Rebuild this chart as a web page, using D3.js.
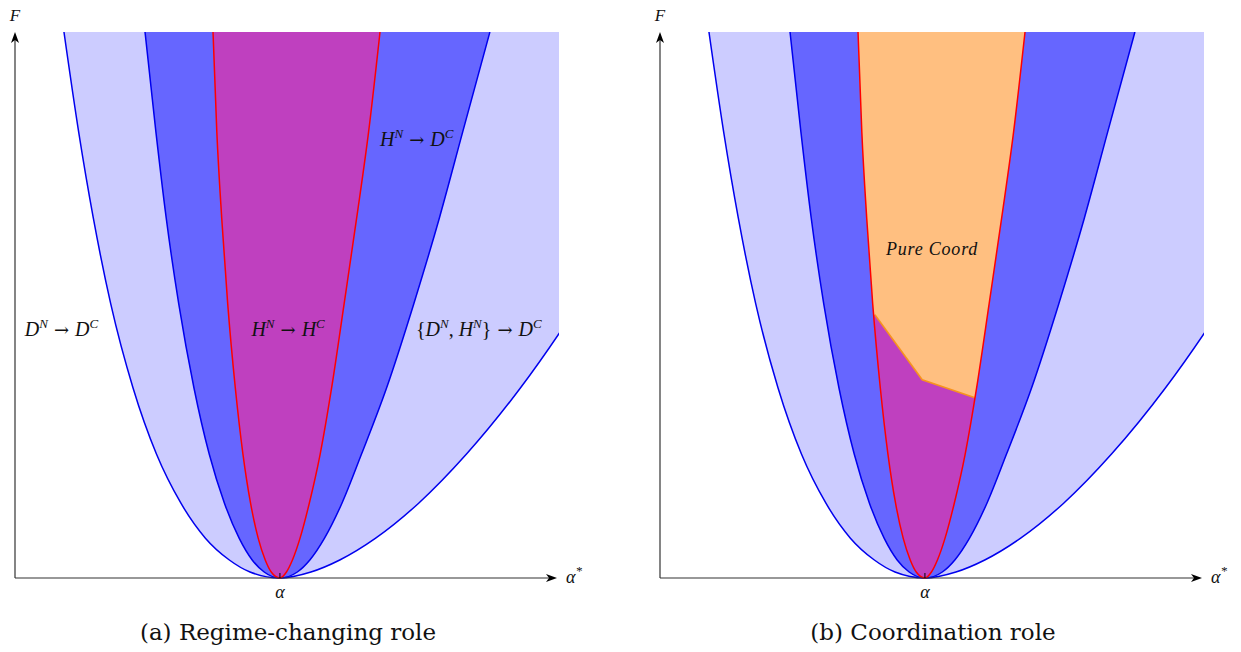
<!DOCTYPE html>
<html>
<head>
<meta charset="utf-8">
<script src="https://cdn.jsdelivr.net/npm/d3@7"></script>
<style>
body { margin: 0; background: #fff; }
svg { display: block; }
text { font-family: "Liberation Serif", "DejaVu Serif", serif; fill: #111; }
</style>
</head>
<body>
<svg id="chart" width="1241" height="652"></svg>
<script>
// values, alpha* and F both on a 0..10 scale
let alpha = 4.87;
let fLevels    = [0, 0.11, 0.33, 0.73, 1.37, 2.27, 3.48, 5.02, 6.59, 8.17, 10.0];
let outerLeft  = [4.87, 4.32, 3.94, 3.50, 3.05, 2.60, 2.17, 1.76, 1.44, 1.17, 0.90];
let blueLeft   = [4.87, 4.58, 4.36, 4.12, 3.85, 3.57, 3.29, 3.01, 2.78, 2.59, 2.39];
let redLeft    = [4.87, 4.71, 4.60, 4.47, 4.33, 4.19, 4.05, 3.91, 3.80, 3.71, 3.64];
let redRight   = [4.87, 4.99, 5.10, 5.24, 5.41, 5.61, 5.82, 6.05, 6.28, 6.50, 6.71];
let blueRight  = [4.87, 5.19, 5.42, 5.69, 6.01, 6.37, 6.83, 7.33, 7.80, 8.23, 8.73];
let outerRight = [4.87, 5.44, 5.97, 6.63, 7.42, 8.30, 9.29, 10.36, 11.32, 12.19, 13.12];
let coordCutX  = [3.95, 4.82, 5.79];
let coordCutF  = [4.82, 3.63, 3.30];

let captions = ["(a) Regime-changing role", "(b) Coordination role"];

let svg = d3.select("#chart");
let defs = svg.append("defs");

function pts(xs) {
    return xs.map((v, i) => [v, fLevels[i]]);
}

function uShape(leftXs, rightXs) {
    // left branch top->origin, then right branch origin->top; x keeps increasing
    return pts(leftXs).reverse().concat(pts(rightXs).slice(1));
}

function mathText(g, x, y, tokens, anchor) {
    let t = g.append("text")
        .attr("x", x).attr("y", y)
        .attr("text-anchor", anchor || "start")
        .style("font-size", "20px");
    let up = false, afterArrow = false;
    tokens.forEach(tok => {
        let s = t.append("tspan").text(tok.t);
        if (tok.i) s.style("font-style", "italic");
        if (afterArrow) { s.attr("dx", 6); afterArrow = false; }
        if (tok.arrow) {
            s.style("font-family", "DejaVu Serif").style("font-size", "18px").attr("dx", 6);
            afterArrow = true;
        }
        if (tok.sup) {
            s.attr("dy", -8).style("font-size", "13px").style("font-style", "italic");
            up = true;
        } else if (up) {
            s.attr("dy", 8);
            up = false;
        }
    });
    return t;
}

function drawPanel(left, idx, coordRole) {
    let x = d3.scaleLinear().domain([0, 10]).range([left, left + 544]);
    let y = d3.scaleLinear().domain([0, 10]).range([578, 32]);
    let g = svg.append("g");

    let clipId = "clip" + idx;
    defs.append("clipPath").attr("id", clipId)
        .append("rect")
        .attr("x", x(0)).attr("y", y(10))
        .attr("width", x(10) - x(0)).attr("height", y(0) - y(10) + 2);

    let line = d3.line()
        .x(d => x(d[0])).y(d => y(d[1]))
        .curve(d3.curveMonotoneX);

    let plot = g.append("g").attr("clip-path", "url(#" + clipId + ")");

    let outer = uShape(outerLeft, outerRight);
    let blue = uShape(blueLeft, blueRight);
    let red = uShape(redLeft, redRight);

    plot.append("path").attr("d", line(outer) + "Z").attr("fill", "#ccccff");
    plot.append("path").attr("d", line(blue) + "Z").attr("fill", "#6666ff");
    plot.append("path").attr("d", line(red) + "Z").attr("fill", "#bf40bf");

    if (coordRole) {
        let cutId = "cut" + idx;
        let poly = [[0, coordCutF[0]]];
        coordCutX.forEach((v, i) => poly.push([v, coordCutF[i]]));
        poly.push([10, coordCutF[coordCutF.length - 1]], [10, 10], [0, 10]);
        defs.append("clipPath").attr("id", cutId)
            .append("polygon")
            .attr("points", poly.map(p => x(p[0]) + "," + y(p[1])).join(" "));
        plot.append("g").attr("clip-path", "url(#" + cutId + ")")
            .append("path").attr("d", line(red) + "Z").attr("fill", "#ffbf80");
        plot.append("path")
            .attr("d", d3.line().x(d => x(d[0])).y(d => y(d[1]))(coordCutX.map((v, i) => [v, coordCutF[i]])))
            .attr("fill", "none").attr("stroke", "#f7931e").attr("stroke-width", 1.6);
    }

    plot.append("path").attr("d", line(outer)).attr("fill", "none").attr("stroke", "#0000ee").attr("stroke-width", 1.5);
    plot.append("path").attr("d", line(blue)).attr("fill", "none").attr("stroke", "#0000ee").attr("stroke-width", 1.5);
    plot.append("path").attr("d", line(red)).attr("fill", "none").attr("stroke", "#ff0000").attr("stroke-width", 1.5);

    // axes with arrow heads
    g.append("line").attr("x1", x(0)).attr("y1", y(0)).attr("x2", x(10) - 8).attr("y2", y(0))
        .attr("stroke", "#333").attr("stroke-width", 1.2);
    g.append("line").attr("x1", x(0)).attr("y1", y(0)).attr("x2", x(0)).attr("y2", y(10) + 8)
        .attr("stroke", "#333").attr("stroke-width", 1.2);
    let xe = x(10), ye = y(0);
    g.append("path").attr("d", `M${xe - 2},${ye} L${xe - 13},${ye - 4} L${xe - 10},${ye} L${xe - 13},${ye + 4} Z`).attr("fill", "#000");
    let yx = x(0), yt = y(10);
    g.append("path").attr("d", `M${yx},${yt} L${yx - 4},${yt + 11} L${yx},${yt + 8} L${yx + 4},${yt + 11} Z`).attr("fill", "#000");
    g.append("line").attr("x1", x(alpha)).attr("x2", x(alpha)).attr("y1", y(0)).attr("y2", y(0) - 5)
        .attr("stroke", "#000").attr("stroke-width", 1);

    g.append("text").attr("x", x(0)).attr("y", 21).attr("text-anchor", "middle")
        .style("font-style", "italic").style("font-size", "17px").text("F");
    g.append("text").attr("x", x(alpha)).attr("y", 598).attr("text-anchor", "middle")
        .style("font-style", "italic").style("font-size", "18px").text("α");
    mathText(g, xe + 7, ye + 5, [{t: "α", i: true}, {t: "*", sup: true}]).style("font-size", "18px");

    if (!coordRole) {
        mathText(g, x(0.18), y(4.54) + 6, [{t: "D", i: true}, {t: "N", sup: true}, {t: "→", arrow: true}, {t: "D", i: true}, {t: "C", sup: true}]);
        mathText(g, x(5.02), y(4.54) + 6, [{t: "H", i: true}, {t: "N", sup: true}, {t: "→", arrow: true}, {t: "H", i: true}, {t: "C", sup: true}], "middle");
        mathText(g, x(7.37), y(4.54) + 6, [{t: "{"}, {t: "D", i: true}, {t: "N", sup: true}, {t: ", "}, {t: "H", i: true}, {t: "N", sup: true}, {t: "}"}, {t: "→", arrow: true}, {t: "D", i: true}, {t: "C", sup: true}]);
        mathText(g, x(6.71), y(8.02) + 6, [{t: "H", i: true}, {t: "N", sup: true}, {t: "→", arrow: true}, {t: "D", i: true}, {t: "C", sup: true}]);
    } else {
        g.append("text").attr("x", x(5.0)).attr("y", y(6.03) + 6).attr("text-anchor", "middle")
            .style("font-style", "italic").style("font-size", "18px").style("letter-spacing", "0.8px").text("Pure Coord");
    }

    g.append("text").attr("x", x(5.0) + 1).attr("y", 640).attr("text-anchor", "middle")
        .style("font-family", "DejaVu Serif").style("font-size", "23px").text(captions[idx]);
}

drawPanel(15, 0, false);
drawPanel(660, 1, true);
</script>
</body>
</html>
